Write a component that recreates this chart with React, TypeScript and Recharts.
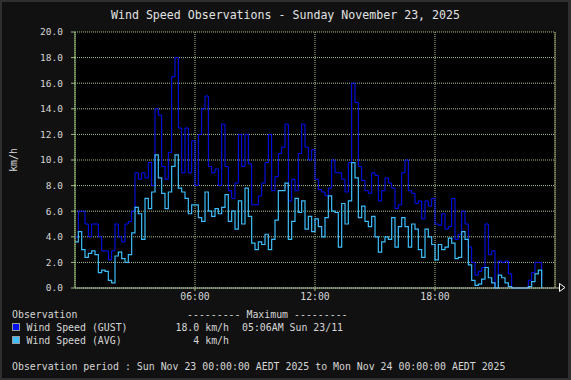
import React from 'react';
import { LineChart, Line, XAxis, YAxis, CartesianGrid, ReferenceLine } from 'recharts';

// 10-minute samples from 00:00 to 23:20 (km/h)
const GUST = [
  4.0, 6.0, 6.0, 5.0, 4.0, 5.0,
  5.0, 4.0, 2.9, 2.9, 2.2, 2.9,
  5.0, 4.0, 3.6, 5.0, 5.2, 6.0,
  9.0, 8.5, 9.0, 8.6, 9.8, 8.0,
  14.0, 13.5, 9.5, 8.5, 10.6, 16.5,
  18.0, 12.5, 9.0, 12.5, 9.0, 11.5,
  8.0, 12.0, 14.0, 15.0, 9.5, 9.0,
  9.3, 8.0, 12.8, 9.5, 7.6, 7.0,
  8.2, 12.0, 9.5, 12.0, 9.7, 6.5,
  6.5, 7.2, 8.2, 9.8, 12.0, 7.6,
  8.7, 10.5, 11.0, 12.8, 6.8, 8.5,
  7.6, 10.5, 12.8, 11.0, 10.0, 10.8,
  8.5, 7.7, 7.5, 7.2, 7.8, 10.0,
  9.0, 9.0, 8.5, 7.5, 9.8, 16.0,
  14.5, 9.5, 8.4, 7.6, 7.4, 9.0,
  8.8, 6.8, 7.6, 8.6, 8.2, 7.8,
  6.2, 6.5, 9.0, 10.0, 7.6, 7.4,
  6.6, 6.8, 5.4, 6.8, 6.4, 7.0,
  5.0, 4.9, 5.8, 4.6, 4.8, 7.0,
  3.8, 4.2, 6.0, 5.0, 3.2, 2.0,
  1.0, 1.3, 1.6, 5.0, 2.6, 2.9,
  0.0, 2.1, 2.0, 2.1, 1.1, 0.0,
  0.0, 0.0, 0.0, 0.0, 0.6, 1.2,
  2.0, 2.0, 0.3,
];

const AVG = [
  3.6, 4.4, 3.0, 2.4, 2.7, 2.9,
  2.6, 1.2, 1.4, 1.3, 0.6, 0.4,
  2.5, 2.8, 2.3, 2.0, 2.6, 4.3,
  6.3, 5.8, 3.8, 7.0, 6.2, 7.5,
  10.4, 8.6, 7.4, 6.2, 7.5, 9.5,
  10.4, 7.8, 7.5, 7.0, 5.8, 6.5,
  6.5, 5.5, 5.2, 7.5, 6.0, 5.6,
  6.2, 5.8, 6.3, 7.3, 5.2, 6.0,
  4.6, 6.8, 5.0, 7.8, 5.6, 3.5,
  3.0, 3.6, 3.4, 4.2, 3.0, 3.8,
  5.3, 7.6, 7.6, 8.2, 3.8, 5.2,
  7.0, 5.9, 6.8, 4.6, 5.6, 4.4,
  5.4, 4.8, 4.0, 5.5, 7.2, 6.0,
  5.9, 3.2, 6.6, 5.0, 6.8, 9.8,
  8.6, 5.5, 6.4, 5.2, 4.8, 5.6,
  4.0, 2.8, 3.6, 4.0, 3.8, 5.5,
  3.2, 4.8, 5.5, 4.8, 3.2, 5.0,
  4.6, 3.0, 2.4, 4.6, 4.0, 3.4,
  2.2, 3.4, 3.0, 3.2, 3.9, 3.5,
  2.3, 2.4, 4.4, 3.8, 1.8, 0.6,
  0.2, 0.3, 0.7, 1.6, 0.8, 0.4,
  0.0, 1.0, 0.8, 0.4, 0.1, 0.0,
  0.0, 0.0, 0.0, 0.0, 0.1, 0.5,
  1.1, 1.4, 0.0,
];

const SAMPLE_MINUTES = 10;
const X_TICKS = [360, 720, 1080];
const X_TICK_LABELS = ['06:00', '12:00', '18:00'];
const Y_TICKS = [0, 2, 4, 6, 8, 10, 12, 14, 16, 18, 20];

const TITLE = 'Wind Speed Observations - Sunday November 23, 2025';
const Y_LABEL = 'km/h';
const SERIES_NAMES = ['Wind Speed (GUST)', 'Wind Speed (AVG)'];
const SERIES_MAX = ['18.0 km/h', '4 km/h'];
const SERIES_MAX_TIME = ['05:06AM Sun 23/11', ''];
const PERIOD = 'Observation period : Sun Nov 23 00:00:00 AEDT 2025 to Mon Nov 24 00:00:00 AEDT 2025';

const GUST_COLOR = '#0010ff';
const AVG_COLOR = '#3dbdfb';
const GRID_COLOR = '#a6c48e';
const TEXT_COLOR = '#d6d6d6';
const MONO = '"DejaVu Sans Mono", "Liberation Mono", monospace';

const data = GUST.map((g, i) => ({ t: i * SAMPLE_MINUTES, gust: g, avg: AVG[i] }));

export default function App() {
  return (
    <div
      style={{
        position: 'absolute',
        left: 0,
        top: 0,
        width: 571,
        height: 380,
        background: '#111111',
        overflow: 'hidden',
      }}
    >
      <div style={{ position: 'absolute', left: 0, top: 0 }}>
        <LineChart
          width={571}
          height={380}
          data={data}
          margin={{ top: 32, right: 16, bottom: 62, left: 0 }}
        >
          <CartesianGrid
            stroke={GRID_COLOR}
            strokeDasharray="1 1"
            fill="#000000"
            fillOpacity={1}
          />
          <XAxis
            dataKey="t"
            type="number"
            domain={[0, 1440]}
            ticks={X_TICKS}
            interval={0}
            height={30}
            tickFormatter={(v: number) => X_TICK_LABELS[X_TICKS.indexOf(v)] ?? ''}
            axisLine={{ stroke: '#b6c6a8' }}
            tickLine={{ stroke: GRID_COLOR }}
            tickSize={3}
            tickMargin={2}
            tick={{ fill: TEXT_COLOR, fontSize: 9.8, fontFamily: MONO }}
          />
          <YAxis
            type="number"
            domain={[0, 20]}
            ticks={Y_TICKS}
            interval={0}
            width={75}
            tickFormatter={(v: number) => v.toFixed(1)}
            axisLine={{ stroke: '#9cbf7c' }}
            tickLine={{ stroke: '#9cbf7c' }}
            tickSize={4}
            tickMargin={8}
            tick={{ fill: TEXT_COLOR, fontSize: 9.5, fontFamily: MONO }}
          />
          <ReferenceLine x={1440} stroke="#8e8e5a" strokeWidth={1} />
          <Line
            type="stepAfter"
            dataKey="gust"
            stroke={GUST_COLOR}
            strokeWidth={1}
            dot={false}
            activeDot={false}
            isAnimationActive={false}
          />
          <Line
            type="stepAfter"
            dataKey="avg"
            stroke={AVG_COLOR}
            strokeWidth={1.2}
            dot={false}
            activeDot={false}
            isAnimationActive={false}
          />
        </LineChart>
      </div>
      <svg
        width={571}
        height={380}
        style={{ position: 'absolute', left: 0, top: 0, pointerEvents: 'none' }}
      >
        <text
          x={285.5}
          y={15}
          textAnchor="middle"
          dominantBaseline="central"
          fill="#e2e2e2"
          fontFamily={MONO}
          fontSize={11.6}
        >
          {TITLE}
        </text>
        <text
          x={13}
          y={160}
          textAnchor="middle"
          dominantBaseline="central"
          fill={TEXT_COLOR}
          fontFamily={MONO}
          fontSize={9.8}
          transform="rotate(-90 13 160)"
        >
          {Y_LABEL}
        </text>
        <line x1={555} y1={288} x2={559} y2={288} stroke="#b6c6a8" />
        <polygon points="559.5,283.5 565,287.5 559.5,291.5" fill="#111111" stroke="#ffffff" strokeWidth={1} />
        <g fontFamily={MONO} fontSize={9.9} fill={TEXT_COLOR} dominantBaseline="central">
          <text x={12} y={314}>Observation</text>
          <text x={187} y={314} style={{ whiteSpace: 'pre' }}>{'--------- Maximum ---------'}</text>
          <rect x={12.5} y={323.5} width={7} height={7} fill={GUST_COLOR} stroke="#9a9a9a" />
          <text x={26.5} y={327}>{SERIES_NAMES[0]}</text>
          <text x={229} y={327} textAnchor="end">{SERIES_MAX[0]}</text>
          <text x={242} y={327}>{SERIES_MAX_TIME[0]}</text>
          <rect x={12.5} y={336.5} width={7} height={7} fill={AVG_COLOR} stroke="#9a9a9a" />
          <text x={26.5} y={340}>{SERIES_NAMES[1]}</text>
          <text x={229} y={340} textAnchor="end">{SERIES_MAX[1]}</text>
          <text x={242} y={340}>{SERIES_MAX_TIME[1]}</text>
          <text x={12} y={366}>{PERIOD}</text>
        </g>
      </svg>
      <div
        style={{
          position: 'absolute',
          left: 0,
          top: 0,
          width: 571,
          height: 380,
          boxSizing: 'border-box',
          border: '2px solid #2f2f2f',
          borderRightWidth: 3,
          pointerEvents: 'none',
        }}
      />
    </div>
  );
}
